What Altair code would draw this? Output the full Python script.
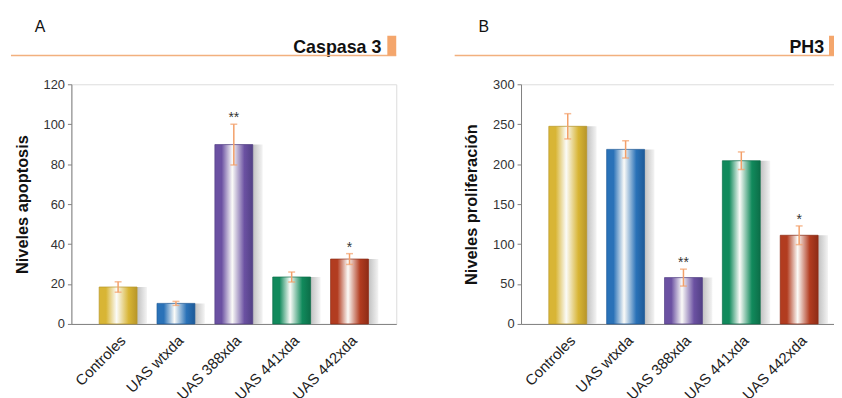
import altair as alt
import pandas as pd

groups = ["Controles", "UAS wtxda", "UAS 388xda", "UAS 441xda", "UAS 442xda"]

apoptosis = [18.5, 10.3, 89.8, 23.5, 32.5]
apoptosis_err = [2.6, 1.0, 10.2, 2.5, 2.7]
apoptosis_sig = ["", "", "**", "", "*"]

prolif = [247.4, 218.5, 58.0, 204.3, 111.0]
prolif_err = [15.8, 10.8, 10.6, 11.0, 11.7]
prolif_sig = ["", "", "**", "", "*"]

bar_colors = ["#d8b535", "#2a72b8", "#6b51a2", "#118a5c", "#b23c20"]
bar_edges = ["#b8962a", "#1d5a98", "#524085", "#0c6e48", "#8e2c16"]

ORANGE_LINE = "#f2b07e"
ORANGE_BOX = "#f4a66c"
ERR = "#f3a06a"
FONT = "Liberation Sans"


def panel(values, errs, sigs, ymax, ystep, ytitle, letter, title, width, letter_x,
          title_x, line_end, box_x, box_w):
    df = pd.DataFrame({
        "g": groups,
        "v": values,
        "lo": [v - e for v, e in zip(values, errs)],
        "hi": [v + e for v, e in zip(values, errs)],
        "sig": sigs,
    })
    base = alt.Chart(df)
    xenc = alt.X("g:N", sort=groups, title=None,
                 scale=alt.Scale(paddingInner=0.345, paddingOuter=0.48),
                 axis=alt.Axis(labelAngle=315, labelAlign="right", labelBaseline="top",
                               labelFontSize=15, labelColor="#222222", labelFont=FONT,
                               ticks=False, labelPadding=9, domainColor="#808080",
                               labelLimit=200))
    yenc = alt.Y("v:Q", title=ytitle,
                 scale=alt.Scale(domain=[0, ymax], nice=False),
                 axis=alt.Axis(values=list(range(0, ymax + 1, ystep)), grid=False,
                               labelFontSize=13, labelColor="#333333", labelFont=FONT,
                               tickSize=4, tickColor="#808080", domainColor="#808080",
                               labelPadding=3, titleFontSize=16.5, titleFont=FONT,
                               titleFontWeight="bold", titleColor="#111111",
                               titlePadding=13))
    layers = []
    shadow = alt.Gradient(gradient="linear", x1=0, x2=1, y1=0, y2=0,
                          stops=[alt.GradientStop(offset=0, color="#bdbdbd"),
                                 alt.GradientStop(offset=0.72, color="#bdbdbd"),
                                 alt.GradientStop(offset=1, color="#f4f4f4")])
    layers.append(base.mark_bar(color=shadow, xOffset=10).encode(x=xenc, y=yenc))
    for g, c, e in zip(groups, bar_colors, bar_edges):
        grad = alt.Gradient(gradient="linear", x1=0, x2=1, y1=0, y2=0,
                            stops=[alt.GradientStop(offset=0, color=c),
                                   alt.GradientStop(offset=0.18, color=c),
                                   alt.GradientStop(offset=0.46, color="#fbfbf8"),
                                   alt.GradientStop(offset=0.78, color=c),
                                   alt.GradientStop(offset=1, color=e)])
        layers.append(base.mark_bar(color=grad, stroke=e, strokeWidth=0.7)
                      .encode(x=xenc, y=yenc)
                      .transform_filter(alt.datum.g == g))
    layers.append(base.mark_rule(color=ERR, strokeWidth=1.5).encode(
        x=xenc, y="lo:Q", y2="hi:Q"))
    layers.append(base.mark_tick(color=ERR, size=7, thickness=1.5).encode(x=xenc, y="lo:Q"))
    layers.append(base.mark_tick(color=ERR, size=7, thickness=1.5).encode(x=xenc, y="hi:Q"))
    layers.append(base.mark_text(fontSize=14, color="#333333", font=FONT, dy=-2,
                                 baseline="alphabetic").encode(
        x=xenc, y="hi:Q", text="sig:N"))

    deco = alt.Chart(pd.DataFrame({"t": [letter]}))
    layers.append(deco.mark_text(fontSize=16, font=FONT, color="#111111", align="left",
                                 baseline="alphabetic").encode(
        x=alt.value(letter_x), y=alt.value(-53), text="t:N"))
    tdf = alt.Chart(pd.DataFrame({"t": [title]}))
    layers.append(tdf.mark_text(fontSize=18, font=FONT, fontWeight="bold", color="#111111",
                                align="right", baseline="alphabetic").encode(
        x=alt.value(title_x), y=alt.value(-32), text="t:N"))
    layers.append(deco.mark_rule(color=ORANGE_LINE, strokeWidth=1.6).encode(
        x=alt.value(letter_x - 24), x2=alt.value(line_end), y=alt.value(-29)))
    layers.append(deco.mark_rect(color=ORANGE_BOX).encode(
        x=alt.value(box_x), x2=alt.value(box_x + box_w), y=alt.value(-49), y2=alt.value(-29)))

    return alt.layer(*layers).properties(width=width, height=242)


left = panel(apoptosis, apoptosis_err, apoptosis_sig, 120, 20, "Niveles apoptosis",
             "A", "Caspasa 3", 328, -37, 313, 328, 319, 9)
right = panel(prolif, prolif_err, prolif_sig, 300, 50, "Niveles proliferación",
              "B", "PH3", 328, -43, 306, 340, 311, 6)

chart = alt.hconcat(left, right, spacing=55).properties(
    autosize=alt.AutoSizeParams(type="none"),
    padding={"left": 64, "top": 74, "right": 770, "bottom": 306}
).configure_view(stroke="#808080", strokeWidth=1).configure(background="white")

chart.save("out.html", embed_options={"renderer": "svg", "actions": False})
